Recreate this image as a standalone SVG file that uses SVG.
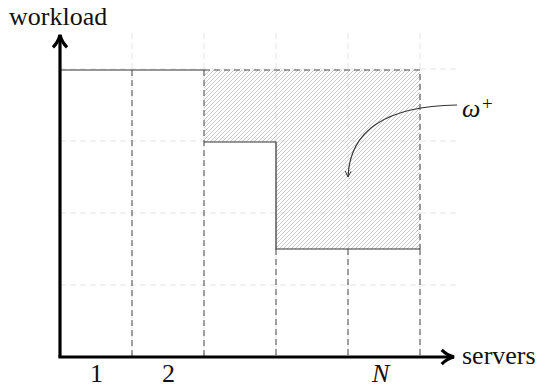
<svg xmlns="http://www.w3.org/2000/svg" width="546" height="385" viewBox="0 0 546 385">
<style>
.grid{stroke:#e4e4e4;stroke-width:1;stroke-dasharray:6 4;fill:none}
.dash{stroke:#444;stroke-width:1;stroke-dasharray:6 4;fill:none}
.solid{stroke:#333;stroke-width:1.2;fill:none}
.axis{stroke:#000;stroke-width:3.2;fill:none}
.t{font-family:"Liberation Serif","DejaVu Serif",serif;font-size:26px;fill:#111}
.sup{font-family:"Liberation Serif","DejaVu Serif",serif;font-size:19px;fill:#111}
</style>
<defs>
<pattern id="hatch" patternUnits="userSpaceOnUse" width="4" height="4">
<path d="M-1,1 l2,-2 M0,4 l4,-4 M3,5 l2,-2" stroke="#bdbdbd" stroke-width="0.8"/>
</pattern>
<marker id="ah" viewBox="0 0 10 10" refX="8" refY="5" markerWidth="5.5" markerHeight="5.5" orient="auto">
<path d="M1,1 Q4,4 8,5 Q4,6 1,9" fill="none" stroke="#000" stroke-width="1.8"/>
</marker>
<marker id="sh" viewBox="0 0 10 10" refX="8" refY="5" markerWidth="8" markerHeight="8" orient="auto">
<path d="M2,2 L8,5 L2,8" fill="none" stroke="#333" stroke-width="1"/>
</marker>
</defs>
<g id="grid">
<path class="grid" d="M132,33V357 M204,33V357 M276,33V357 M348,33V357 M420,33V357 M60,141H458 M60,213H458 M60,285H458 M60,69H458"/>
</g>
<g id="region">
<path d="M204,70H420V249H276V142H204Z" fill="url(#hatch)" stroke="none"/>
</g>
<g id="connectors">
<path class="solid" d="M60,70H204"/>
<path class="dash" d="M204,70H420V249 M420,249V357 M204,70V357 M132,70V357 M276,249V357 M348,249V357"/>
<path class="solid" d="M204,142H276V249H420"/>
<path d="M457,105 C395,106 350,125 348,177" fill="none" stroke="#333" stroke-width="1.2" marker-end="url(#sh)"/>
</g>
<g id="axes">
<path class="axis" d="M60,357V35" marker-end="url(#ah)"/>
<path class="axis" d="M58.4,357H454" marker-end="url(#ah)"/>
</g>
<g id="labels">
<text class="t" x="9" y="25">workload</text>
<text class="t" x="462" y="364">servers</text>
<text class="t" x="90" y="382">1</text>
<text class="t" x="162" y="382">2</text>
<text class="t" x="372" y="382" font-style="italic">N</text>
<text class="t" x="462" y="117" font-style="italic">ω</text>
<text class="sup" x="482" y="110">+</text>
</g>
</svg>
